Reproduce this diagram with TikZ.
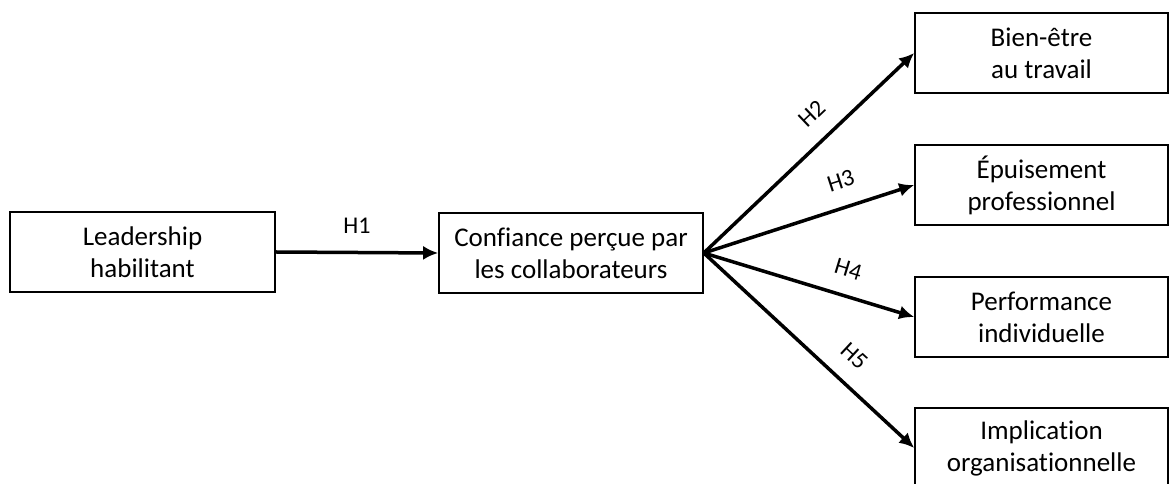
\documentclass[tikz,border=0pt]{standalone}
\usepackage{fontspec}
\setmainfont{Carlito}[Ligatures = NoCommon]
\usetikzlibrary{arrows.meta}

\begin{document}
\begin{tikzpicture}[x = 1pt, y = 1pt,
        font = \fontsize{27}{32}\selectfont,
        box/.style = {draw, line width = 1.6pt, align = center, minimum height = 80pt, inner sep = 0pt},
        link/.style = {line width = 3.5pt, -{Latex[length = 15pt, width = 14pt]}},
        hyp/.style = {font = \fontsize{24}{28}\selectfont, inner sep = 0pt, above = 17pt}]
        \useasboundingbox (0,0) rectangle (1170,484);

        \node[box, minimum width = 265pt] (lead) at (142.5,232) {Leadership\\habilitant};
        \node[box, minimum width = 264pt] (trust) at (571,231) {Confiance perçue par\\les collaborateurs};

        \node[box, minimum width = 253pt] (well) at (1041.5,431) {Bien-être\\au travail};
        \node[box, minimum width = 253pt] (burn) at (1041.5,299) {Épuisement\\professionnel};
        \node[box, minimum width = 253pt] (perf) at (1041.5,167) {Performance\\individuelle};
        \node[box, minimum width = 253pt] (impl) at (1041.5,36) {Implication\\organisationnelle};

        \draw[link] (lead.east) -- (trust.west) node[hyp, midway] {H1};

        \draw[link] (trust.east) -- (well.west) node[hyp, sloped, pos = 0.6] {H2};
        \draw[link] (trust.east) -- (burn.west) node[hyp, sloped, pos = 0.69] {H3};
        \draw[link] (trust.east) -- (perf.west) node[hyp, sloped, pos = 0.65] {H4};
        \draw[link] (trust.east) -- (impl.west) node[hyp, sloped, pos = 0.63] {H5};
    \end{tikzpicture}
\end{document}
